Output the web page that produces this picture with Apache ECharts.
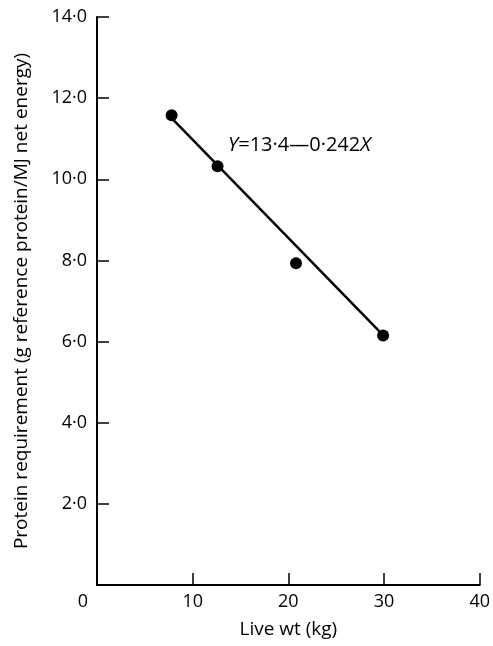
<!DOCTYPE html>
<html>
<head>
<meta charset="utf-8">
<script src="https://cdn.jsdelivr.net/npm/echarts@6/dist/echarts.min.js"></script>
<style>
  html, body { margin: 0; padding: 0; background: #fff; }
  #chart { width: 493px; height: 646px; }
</style>
</head>
<body>
<div id="chart"></div>
<script>
// observed points (live wt kg, protein requirement)
const liveWt = [7.8, 12.6, 20.8, 29.9];
const protein = [11.58, 10.32, 7.93, 6.15];

// fitted line Y = 13.4 - 0.242X, endpoints as drawn
const fitX = [7.8, 29.9];
const fitY = [11.51, 6.16];

const xTicks = [0, 10, 20, 30, 40];
const yTickLabels = ['', '2·0', '4·0', '6·0', '8·0', '10·0', '12·0', '14·0'];

const font = '"Open Sans", Lato, sans-serif';
const ink = '#000';

const chart = echarts.init(document.getElementById('chart'));

const option = {
  animation: false,
  textStyle: { fontFamily: font, color: ink },
  grid: { left: 97, right: 8, top: 17, bottom: 61 },
  xAxis: {
    type: 'value',
    min: 0,
    max: 40,
    interval: 10,
    name: 'Live wt (kg)',
    nameLocation: 'middle',
    nameGap: 35,
    nameTextStyle: { fontSize: 19, color: ink, fontFamily: font },
    axisLine: { lineStyle: { color: ink, width: 2 } },
    axisTick: { inside: true, length: 12, lineStyle: { color: ink, width: 1.5 } },
    splitLine: { show: false },
    axisLabel: {
      fontSize: 18,
      color: ink,
      margin: 8,
      fontFamily: font,
      formatter: v => (v === xTicks[0] ? '{z|0}' : String(v)),
      rich: { z: { fontSize: 18, fontFamily: font, color: ink, padding: [0, 28, 0, 0] } }
    }
  },
  yAxis: {
    type: 'value',
    min: 0,
    max: 14,
    interval: 2,
    name: 'Protein requirement (g reference protein/MJ net energy)',
    nameLocation: 'middle',
    nameGap: 66,
    nameTextStyle: { fontSize: 19, color: ink, fontFamily: font },
    axisLine: { lineStyle: { color: ink, width: 2 } },
    axisTick: { inside: true, length: 12, lineStyle: { color: ink, width: 1.5 } },
    splitLine: { show: false },
    axisLabel: {
      fontSize: 18,
      color: ink,
      margin: 10,
      fontFamily: font,
      formatter: v => yTickLabels[Math.round(v / 2)]
    }
  },
  series: [
    {
      type: 'line',
      data: fitX.map((x, i) => [x, fitY[i]]),
      showSymbol: false,
      lineStyle: { color: ink, width: 2.5 },
      markPoint: {
        symbolSize: 0,
        data: [{ coord: [13.7, 10.85] }],
        label: {
          show: true,
          position: 'right',
          distance: 0,
          formatter: '{i|Y}{n|=13·4—0·242}{i|X}',
          rich: {
            i: { fontSize: 20, fontStyle: 'italic', color: ink, fontFamily: font },
            n: { fontSize: 20, color: ink, fontFamily: font }
          }
        }
      }
    },
    {
      type: 'scatter',
      data: liveWt.map((x, i) => [x, protein[i]]),
      symbolSize: 12,
      itemStyle: { color: ink, opacity: 1 }
    }
  ]
};

chart.setOption(option);
</script>
</body>
</html>
